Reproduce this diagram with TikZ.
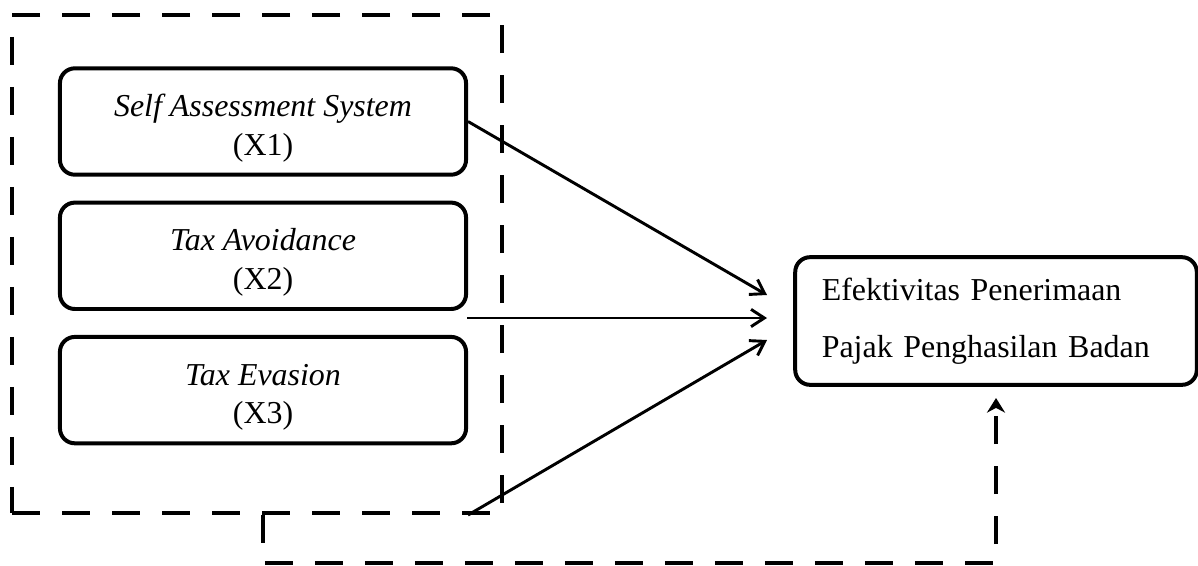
\documentclass[tikz,border=0pt]{standalone}
\usepackage{fontspec}
\setmainfont{Liberation Serif}
\usetikzlibrary{arrows.meta,fit}

\newcommand{\alzado}{\rule{0pt}{13.4pt}}

\tikzset{
  estilo modelo/.style={
      x=0.376pt, y=-0.376pt,
      node distance=50.5pt,
      independiente/.style={rectangle, draw, rounded corners=5.6pt, line width=1.5pt,
          minimum width=152.7pt, minimum height=40pt, align=center,
          font={\fontsize{12pt}{14.5pt}\selectfont}},
      dependiente/.style={rectangle, draw, rounded corners=5.6pt, line width=1.5pt,
          minimum height=48pt, text width=131pt, inner xsep=10pt, align=left,
          font={\fontsize{12pt}{21.4pt}\selectfont}},
      grupo/.style={draw, line width=1.5pt, dash pattern=on 10.5pt off 8.3pt, inner sep=0pt},
      flecha/.style={-{Straight Barb[length=5pt, width=6.5pt]}, line width=1.1pt},
      retro/.style={-{Stealth[length=5.5pt, width=6.8pt]}, line width=1.5pt, dash pattern=on 10.5pt off 8.3pt},
    },
}

\begin{document}
\begin{tikzpicture}[estilo modelo]
            \useasboundingbox (0,0) rectangle (1198,565);

            \node[independiente] (x1) at (263,121.5) {\alzado\textit{Self Assessment System}\\(X1)};
            \node[independiente, below of=x1] (x2) {\alzado\textit{Tax Avoidance}\\(X2)};
            \node[independiente, below of=x2] (x3) {\alzado\textit{Tax Evasion}\\(X3)};
            \node[dependiente] (y) at (996,321) {Efektivitas Penerimaan\\Pajak Penghasilan Badan};

            \coordinate (g-nw) at (12,15);
            \coordinate (g-se) at (502,513);
            \node[grupo, fit=(g-nw)(g-se)] (grupo) {};

            \coordinate (s2) at (467,318);
            \coordinate (e1) at (767,295);
            \coordinate (e2) at (767,318);
            \coordinate (e3) at (767,340);
            \coordinate (r-base) at (0,563);
            \coordinate (r-fin) at (996,398);

            \draw[flecha] (x1.east) -- (e1);
            \draw[flecha] (s2) -- (e2);
            \draw[flecha] (x1.east |- grupo.south) -- (e3);
            \draw[retro] (x1 |- grupo.south) -- (x1 |- r-base) -- (y |- r-base) -- (r-fin);
          \end{tikzpicture}
\end{document}
